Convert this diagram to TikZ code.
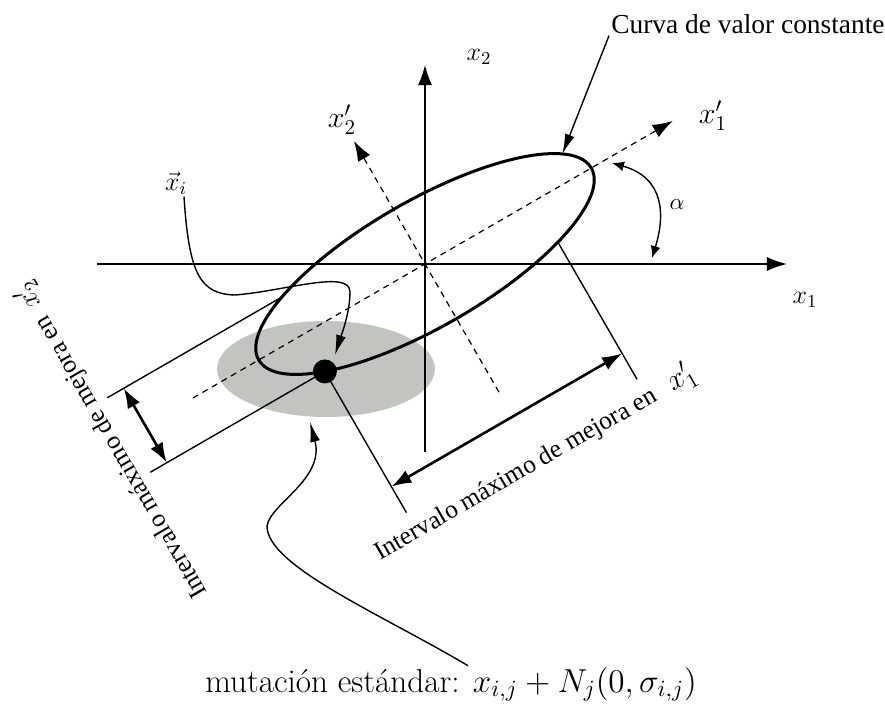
\RequirePackage{fix-cm}
\documentclass[tikz,border=0pt]{standalone}
\usepackage{fontspec}
\usepackage{amsmath}
\usetikzlibrary{arrows.meta,calc}
\newfontfamily\timesfont{Liberation Serif}
\definecolor{SpotGray}{HTML}{C1C4BF}
\definecolor{Ink}{HTML}{000000}

\begin{document}
\begin{tikzpicture}[x=0.5pt,y=0.5pt,
    axis/.style={Ink,line width=0.75pt,-{Latex[length=10pt,width=7pt]}},
    rotaxis/.style={Ink,line width=0.6pt,dash pattern=on 3pt off 2.5pt,-{Latex[length=10pt,width=7pt]}},
    guide/.style={Ink,line width=0.7pt},
    span/.style={Ink,line width=1.3pt,{Latex[length=10pt,width=7pt]}-{Latex[length=10pt,width=7pt]}},
    callout/.style={Ink,line width=0.7pt,-{Latex[length=10pt,width=5pt]}},
    mathlbl/.style={inner sep=1pt,font=\fontsize{13}{15}\selectfont},
    primelbl/.style={inner sep=1pt,font=\fontsize{15}{17}\selectfont},
    spanlbl/.style={inner sep=1pt,anchor=base west,font=\timesfont\fontsize{12.8}{15}\selectfont}]

    \useasboundingbox (-425,-439) rectangle (460,264);

    \fill[SpotGray] (-99,-105) ellipse (109 and 48);

    \draw[axis] (-328,0) -- (362,0);
    \draw[axis] (0,-188) -- (0,199);

    \begin{scope}[rotate=30]
      \draw[rotaxis] (-268,0) -- (286,0);
      \draw[rotaxis] (0,-148) -- (0,142);
      \draw[Ink,line width=1.5pt] (0,0) ellipse (192 and 63);
      \coordinate (ctop) at (25:192 and 63);
      \coordinate (cdot) at (223:192 and 63);
      \coordinate (cmirror) at (137:192 and 63);
      \coordinate (cright) at (126,-47.5);

      \draw[guide] (cdot) -- (-342,-43);
      \draw[guide] (cmirror) -- (-342,43);
      \draw[span] (-323,-43) -- (-323,43);

      \draw[guide] (cdot) -- (-140.4,-206);
      \draw[guide] (cright) -- (126,-206);
      \draw[span] (-140.4,-176) -- (126,-176);
    \end{scope}

    \node[circle,fill=Ink,inner sep=0pt,minimum size=12pt] (seed) at (cdot) {};

    \node[mathlbl] (xtwo) at (54,207) {$x_2$};
    \node[mathlbl] (xone) at (380,-36) {$x_1$};
    \node[primelbl] (xtwop) at (-83,144) {$x'_2$};
    \node[primelbl] (xonep) at (288,148) {$x'_1$};
    \node[mathlbl,font=\fontsize{11.5}{14}\selectfont] (alpha) at (252,59) {$\alpha$};
    \node[mathlbl] (xi) at (-249,81) {$\vec{x}_i$};

    \node[anchor=base west,inner sep=1pt,font=\timesfont\fontsize{13.7}{16}\selectfont] (curva) at (184,231)
      {Curva de valor constante};
    \node[anchor=base,inner sep=0.5pt,font=\fontsize{16.6}{19}\selectfont] (mut) at (26,-428)
      {mutación estándar: $x_{i,j}+N_j(0,\sigma_{i,j})$};
    \node[spanlbl,rotate=30] (spanone) at (-47,-298)
      {Intervalo máximo de mejora en\enspace\,{\fontsize{15}{17}\selectfont$x'_1$}};
    \node[spanlbl,rotate=120] (spantwo) at (-216,-331)
      {Intervalo máximo de mejora en\enspace{\fontsize{14}{16}\selectfont$x'_2$}};

    \coordinate (xitip) at (-90,-91);
    \coordinate (spotedge) at (-115,-158);

    \draw[Ink,line width=0.7pt,{Latex[length=6pt,width=5pt]}-{Latex[length=6pt,width=5pt]}]
      (187,101) .. controls (240,86) and (240,48) .. (227,6);
    \draw[callout] (curva.south west) -- (ctop);
    \draw[callout] ([xshift=4pt]xi.south) .. controls (-236,-10) and (-225,-30) .. (-190,-31)
      .. controls (-140,-27) and (-75,-5) .. (-75,-28)
      .. controls (-75,-50) and (-85,-75) .. (xitip);
    \draw[callout] ([xshift=8.5pt]mut.north) .. controls (-44,-350) and (-158,-302) .. (-158,-262)
      .. controls (-155,-240) and (-100,-215) .. (spotedge);
\end{tikzpicture}
\end{document}
